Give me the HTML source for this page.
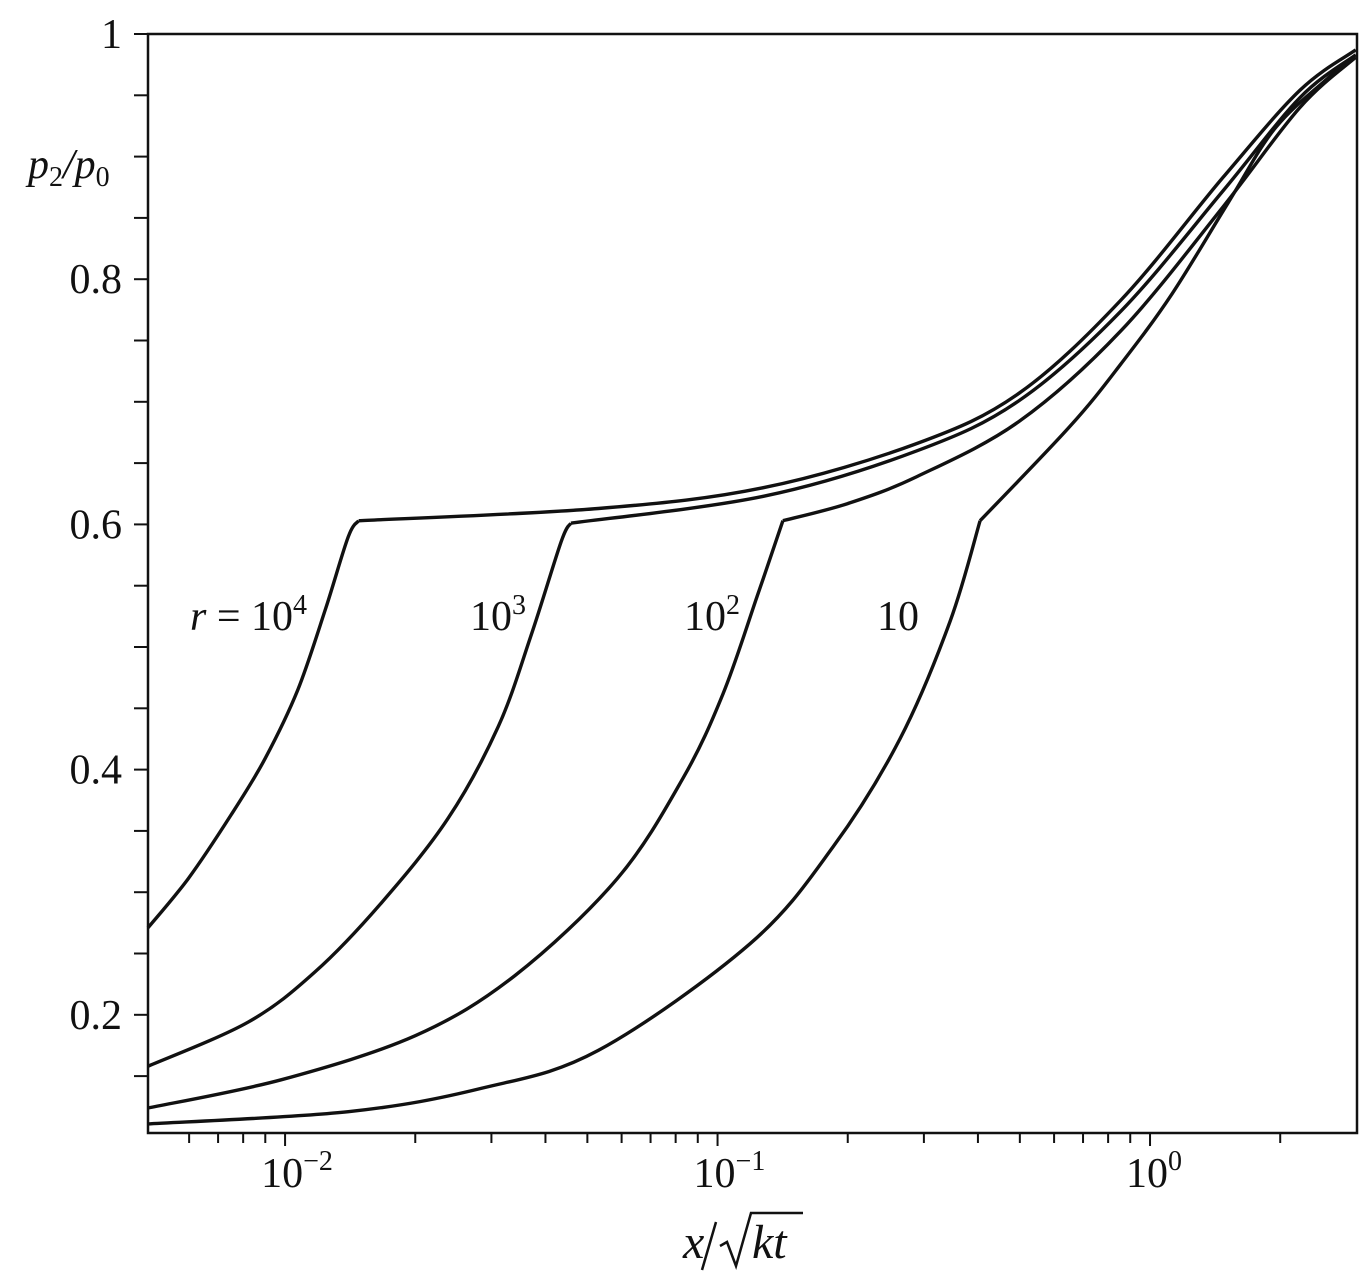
<!DOCTYPE html>
<html><head><meta charset="utf-8"><style>
html,body{margin:0;padding:0;background:#fff;}
svg{display:block;font-family:"Liberation Serif",serif;}
</style></head><body>
<svg id="chart" width="1370" height="1272" viewBox="0 0 1370 1272" xmlns="http://www.w3.org/2000/svg">
<g id="axes"></g>
<g id="curves"></g>
<g font-size="42" fill="#111">
<text x="190" y="630"><tspan font-style="italic">r</tspan> = 10<tspan font-size="28" dy="-16">4</tspan></text>
<text x="470" y="630">10<tspan font-size="28" dy="-16">3</tspan></text>
<text x="684" y="630">10<tspan font-size="28" dy="-16">2</tspan></text>
<text x="877" y="630">10</text>
</g>
<text x="28" y="178" font-size="42" font-style="italic" fill="#111">p<tspan font-style="normal" font-size="28" dy="8">2</tspan><tspan dy="-8">/p</tspan><tspan font-style="normal" font-size="28" dy="8">0</tspan></text>
<g fill="#111">
<text x="683" y="1258" font-size="48" font-style="italic">x</text>
<path d="M716 1222 L702 1270" stroke="#111" stroke-width="2.5" fill="none"/>
<path d="M720 1246 L727 1242 L736 1266 L751 1213 L803 1213" stroke="#111" stroke-width="2.5" fill="none"/>
<text x="752" y="1258" font-size="48" font-style="italic">kt</text>
</g>
</svg>
<script>
const xMin = 0.00482, xMax = 3.01, yMin = 0.1036, yMax = 1.0;
const yMajorTicks = [0.2, 0.4, 0.6, 0.8, 1];
const yTickLabels = ["0.2", "0.4", "0.6", "0.8", "1"];
const xMajorTicks = [0.01, 0.1, 1];
const xTickExponents = ["\u22122", "\u22121", "0"];
const curveNames = ["r-1e4", "r-1e3", "r-1e2", "r-10"];
const kinkIndex = [7, 8, 8, 8];
const xR4 = [0.00482,0.00597,0.0075,0.00899,0.0107,0.0124,0.014,0.0148,0.053,0.128,0.289,0.498,0.857,1.475,2.22,2.99];
const yR4 = [0.271,0.311,0.363,0.409,0.465,0.531,0.590,0.603,0.613,0.630,0.666,0.707,0.783,0.883,0.954,0.987];
const xR3 = [0.00482,0.00821,0.01173,0.01667,0.0238,0.0311,0.0371,0.0435,0.0458,0.128,0.289,0.498,0.857,1.475,2.22,2.99];
const yR3 = [0.158,0.194,0.235,0.291,0.360,0.435,0.510,0.586,0.601,0.623,0.660,0.701,0.774,0.872,0.948,0.983];
const xR2 = [0.00482,0.00979,0.02,0.034,0.0586,0.0832,0.103,0.1234,0.1416,0.2,0.289,0.498,0.857,1.475,2.22,2.99];
const yR2 = [0.124,0.147,0.183,0.232,0.311,0.393,0.462,0.541,0.603,0.617,0.639,0.684,0.758,0.859,0.940,0.981];
const xR1 = [0.00482,0.014,0.0284,0.053,0.1189,0.185,0.264,0.345,0.4046,0.653,0.857,1.124,1.514,1.935,2.54,2.99];
const yR1 = [0.111,0.121,0.140,0.171,0.258,0.337,0.425,0.521,0.603,0.680,0.731,0.788,0.862,0.922,0.962,0.981];

const L = 148, R = 1357, T = 34, B = 1133;
function sx(v){ return L + (Math.log10(v) - Math.log10(xMin)) / (Math.log10(xMax) - Math.log10(xMin)) * (R - L); }
function sy(v){ return B - (v - yMin) / (yMax - yMin) * (B - T); }
const NS = "http://www.w3.org/2000/svg";
function mk(tag, attrs, parent){ const e = document.createElementNS(NS, tag); for (const k in attrs) e.setAttribute(k, attrs[k]); parent.appendChild(e); return e; }
const axes = document.getElementById('axes');
const frame = mk('rect', {x:L, y:T, width:R-L, height:B-T, fill:'none', stroke:'#111', 'stroke-width':2.5}, axes);


for (let v = 0.15; v <= 1.0001; v += 0.05) {
  const y = sy(v);
  const t = mk('line', {x1:L-14, x2:L, y1:y, y2:y, stroke:'#111', 'stroke-width':2}, axes);
  
  
}
yMajorTicks.forEach((v, i) => {
  const t = mk('text', {x:L-26, y:sy(v)+14, 'font-size':42, 'text-anchor':'end', fill:'#111'}, axes);
  t.textContent = yTickLabels[i];
  
  
});
for (let d = -3; d <= 0; d++) {
  for (let m = 1; m <= 9; m++) {
    const v = m * Math.pow(10, d);
    if (v < 0.0055 || v > 2.5) continue;
    const x = sx(v);
    const t = mk('line', {x1:x, x2:x, y1:B, y2:B + (m === 1 ? 13 : 10), stroke:'#111', 'stroke-width':2}, axes);
    
    
  }
}
xMajorTicks.forEach((v, i) => {
  const t = mk('text', {x:sx(v)-24, y:1187, 'font-size':42, fill:'#111'}, axes);
  t.textContent = '10';
  const s = mk('tspan', {'font-size':28, dy:-17}, t);
  s.textContent = xTickExponents[i];
  
  
});
function spline(p){
  if (p.length < 3) return 'M' + p.map(q => q.map(n=>n.toFixed(1)).join(',')).join(' L');
  let d = 'M' + p[0][0].toFixed(1) + ',' + p[0][1].toFixed(1);
  for (let i = 0; i < p.length - 1; i++) {
    const p0 = p[Math.max(0, i-1)], p1 = p[i], p2 = p[i+1], p3 = p[Math.min(p.length-1, i+2)];
    const c1 = [p1[0] + (p2[0]-p0[0])/6, p1[1] + (p2[1]-p0[1])/6];
    const c2 = [p2[0] - (p3[0]-p1[0])/6, p2[1] - (p3[1]-p1[1])/6];
    d += ' C' + c1.map(n=>n.toFixed(1)).join(',') + ' ' + c2.map(n=>n.toFixed(1)).join(',') + ' ' + p2.map(n=>n.toFixed(1)).join(',');
  }
  return d;
}
const curves = document.getElementById('curves');
[[xR4,yR4],[xR3,yR3],[xR2,yR2],[xR1,yR1]].forEach((c, i) => {
  const pts = c[0].map((xv, j) => [sx(xv), sy(c[1][j])]);
  const k = kinkIndex[i];
  const d = spline(pts.slice(0, k+1)) + ' ' + spline(pts.slice(k));
  const p = mk('path', {d:d, fill:'none', stroke:'#111', 'stroke-width':3.4, 'stroke-linejoin':'round'}, curves);
  
  
});
</script>
</body></html>
